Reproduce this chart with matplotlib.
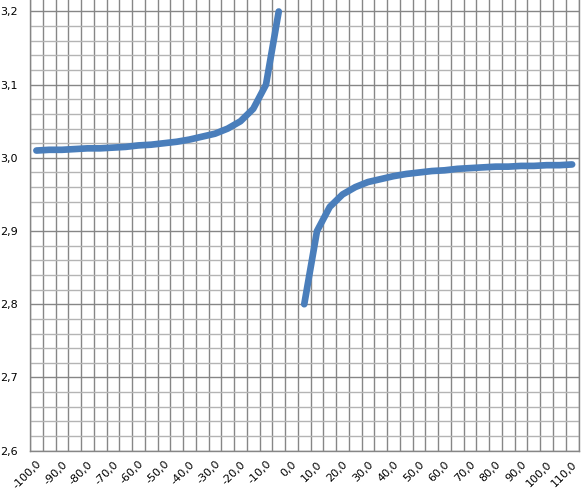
import numpy as np
import matplotlib.pyplot as plt
from matplotlib.ticker import FixedLocator, MultipleLocator

# categories on the x axis (Excel line chart, one point every 5)
categories = [-100, -95, -90, -85, -80, -75, -70, -65, -60, -55, -50, -45, -40,
              -35, -30, -25, -20, -15, -10, -5, 0, 5, 10, 15, 20, 25, 30, 35,
              40, 45, 50, 55, 60, 65, 70, 75, 80, 85, 90, 95, 100, 105, 110]

# values; no value at 0 (gap in the line)
values = [3.010, 3.011, 3.011, 3.012, 3.013, 3.013, 3.014, 3.015, 3.017, 3.018,
          3.020, 3.022, 3.025, 3.029, 3.033, 3.040, 3.050, 3.067, 3.100, 3.200,
          np.nan,
          2.800, 2.900, 2.933, 2.950, 2.960, 2.967, 2.971, 2.975, 2.978, 2.980,
          2.982, 2.983, 2.985, 2.986, 2.987, 2.988, 2.988, 2.989, 2.989, 2.990,
          2.990, 2.991]

y_ticks = [2.6, 2.7, 2.8, 2.9, 3.0, 3.1, 3.2]

major_col = "#868686"
minor_col = "#b4b4b4"

fig = plt.figure(figsize=(5.83, 4.90), dpi=100)
ax = fig.add_axes([30 / 583, 39.4 / 490, 548.5 / 583, 450.6 / 490])

pos = np.arange(len(categories))
ax.plot(pos, values, color="#4a7ebb", lw=4.8,
        solid_capstyle="round", solid_joinstyle="round", zorder=3)

ax.set_xlim(-0.5, len(categories) - 0.5)
ax.set_ylim(2.6, 3.2157)

# x: labels every other category, gridlines between categories
ax.set_xticks(pos[::2])
ax.set_xticklabels([f"{c:.1f}".replace(".", ",") for c in categories[::2]],
                   rotation=45, ha="right", va="top", rotation_mode="anchor",
                   fontsize=8, family="DejaVu Sans")
ax.xaxis.set_minor_locator(FixedLocator(np.arange(len(categories) + 1) - 0.5))

ax.set_yticks(y_ticks)
ax.set_yticklabels([f"{v:.1f}".replace(".", ",") for v in y_ticks], fontsize=8)
ax.yaxis.set_minor_locator(MultipleLocator(0.02))

ax.tick_params(which="both", length=0)
ax.tick_params(axis="x", pad=6)
ax.tick_params(axis="y", pad=9)

ax.grid(axis="x", which="minor", color=major_col, lw=1)
ax.grid(axis="y", which="major", color=major_col, lw=1)
ax.grid(axis="y", which="minor", color=minor_col, lw=1)
ax.set_axisbelow(True)

for s in ["left", "bottom", "right"]:
    ax.spines[s].set_color(major_col)
    ax.spines[s].set_linewidth(1)
ax.spines["top"].set_visible(False)

fig.savefig("out.png", dpi=100)
